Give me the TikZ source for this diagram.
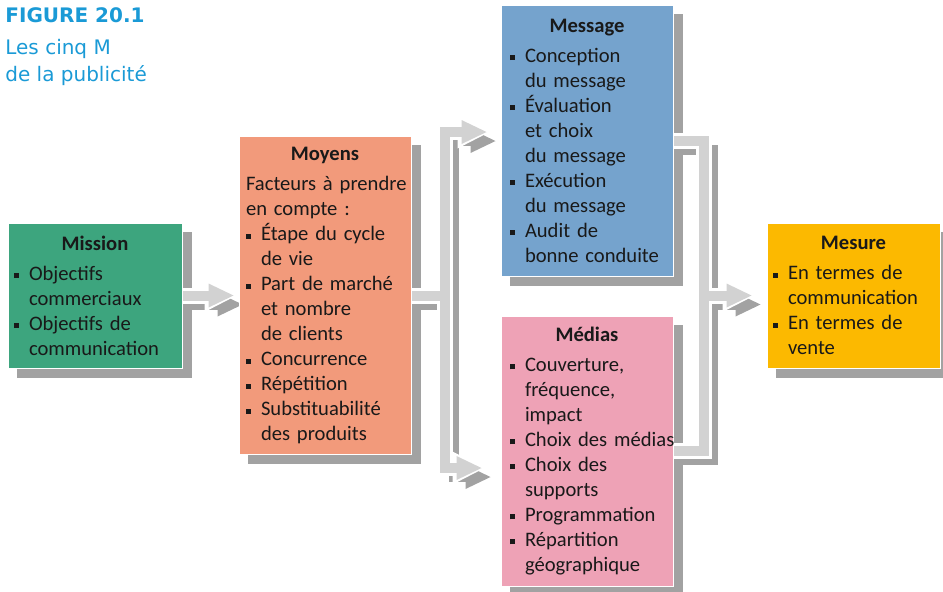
\documentclass[tikz,border=0pt]{standalone}
\usepackage{fontspec}
\newfontfamily\boxfont{Carlito}
\newfontfamily\titlefont{DejaVu Sans}
\usetikzlibrary{arrows.meta,positioning,backgrounds}
\definecolor{figBlue}{HTML}{1A9AD6}
\definecolor{missionFill}{HTML}{3DA57E}
\definecolor{moyensFill}{HTML}{F29A7B}
\definecolor{messageFill}{HTML}{75A3CD}
\definecolor{mediasFill}{HTML}{EEA2B6}
\definecolor{mesureFill}{HTML}{FCB900}
\definecolor{shadowGray}{HTML}{A2A2A2}
\definecolor{bandGray}{HTML}{D2D2D2}
\newcommand\boxhead[1]{{\centering\bfseries #1\par}\vspace{2.5pt}}
\newcommand\bul[1]{\par\noindent\hangindent=7.5pt\hangafter=1\makebox[7.5pt][l]{\rule[1pt]{2.5pt}{2.5pt}}#1\par}
\newcommand\boxtext{\boxfont\fontsize{10.3}{12.5}\selectfont\hyphenpenalty=10000\relax}
\tikzset{
  mbox/.style={
    rectangle, draw=white, line width=0.5pt,
    align=left, font=\boxtext,
    text=black!90
  },
  boxshadow/.style={fill=shadowGray, transform canvas={shift={(4.5pt,-4.5pt)}}},
  bandshadow/.style={draw=shadowGray, line width=5pt,
    transform canvas={shift={(4.5pt,-4.5pt)}},
    >={Triangle[length=12.5pt,width=12pt,line width=0pt]}},
  bandhalo/.style={draw=white, line width=8pt,
    shorten >=-1.5pt, shorten <=-1.5pt,
    >={Triangle[length=16pt,width=16.5pt,line width=0pt]}},
  bandlight/.style={draw=bandGray, line width=5pt,
    >={Triangle[length=12.5pt,width=12pt,line width=0pt]}},
  figtitle/.style={font=\titlefont\fontsize{10}{13.5}\selectfont,
    text=figBlue, align=left, inner sep=0pt}
}

\begin{document}
\begin{tikzpicture}[x=0.5pt, y=-0.5pt]
  \useasboundingbox (0,0) rectangle (943,591);

  % title
  \node[figtitle, anchor=north west] (fig) at (5,7)
       {\textbf{FIGURE 20.1}\\[2.5pt]Les cinq M\\de la publicité};

  % the five M
  \node[mbox, fill=missionFill, text width=81pt, inner xsep=3pt, minimum height=72.5pt]
       (mission) at (95,295.5)
       {\boxhead{Mission}\bul{Objectifs\newline commerciaux}\bul{Objectifs de\newline communication}};
  \node[mbox, fill=moyensFill, right=28pt of mission, text width=79pt, inner xsep=3.5pt, minimum height=159pt]
       (moyens)
       {\boxhead{Moyens}\noindent\mbox{Facteurs à prendre}\newline en compte~:\par
        \bul{Étape du cycle\newline de vie}\bul{Part de marché\newline et nombre\newline de clients}
        \bul{Concurrence}\bul{Répétition}\bul{Substituabilité\newline des produits}};
  \node[mbox, fill=messageFill, text width=77pt, inner xsep=4.5pt, minimum height=135.5pt]
       (message) at (587,140.5)
       {\boxhead{Message}\bul{Conception\newline du message}\bul{Évaluation\newline et choix\newline du message}
        \bul{Exécution\newline du message}\bul{Audit de\newline bonne conduite}};
  \node[mbox, fill=mediasFill, below=19.5pt of message, text width=77pt, inner xsep=4.5pt, minimum height=135pt]
       (medias)
       {\boxhead{Médias}\bul{Couverture,\newline fréquence,\newline impact}\bul{\mbox{Choix des médias}}
        \bul{Choix des\newline supports}\bul{Programmation}\bul{Répartition\newline géographique}};
  \node[mbox, fill=mesureFill, text width=80.5pt, inner xsep=3pt, minimum height=72.5pt]
       (mesure) at (853.5,295.5)
       {\boxhead{Mesure}\bul{En termes de\newline communication}\bul{En termes de\newline vente}};

  % split points and arrow ends
  \coordinate (tip1)   at ([xshift=-2.5pt]moyens.west);
  \coordinate (split1) at ([xshift=16.5pt]moyens.east);
  \coordinate (tipmsg) at ([xshift=-7pt,yshift=4.25pt]message.west);
  \coordinate (tipmed) at ([xshift=-9.5pt,yshift=-8.5pt]medias.west);
  \coordinate (split2) at ([xshift=-31.5pt]mesure.west);
  \coordinate (tipmes) at ([xshift=-7.5pt]mesure.west);

  \begin{scope}[on background layer]
    % box shadows
    \foreach \b in {mission,moyens,message,medias,mesure}
      \fill[boxshadow] (\b.south west) rectangle (\b.north east);
    % bands: shadow, white edge, then light grey
    \foreach \lay in {bandshadow,bandhalo,bandlight}{
      \draw[\lay,->] (mission.east) -- (tip1);
      \draw[\lay] (moyens.east) -- (split1);
      \draw[\lay,<->] (tipmsg) -| (split1) |- (tipmed);
      \draw[\lay] (message.east) -| (split2) |- (medias.east);
      \draw[\lay,->] (split2) -- (tipmes);
    }
  \end{scope}
\end{tikzpicture}
\end{document}
